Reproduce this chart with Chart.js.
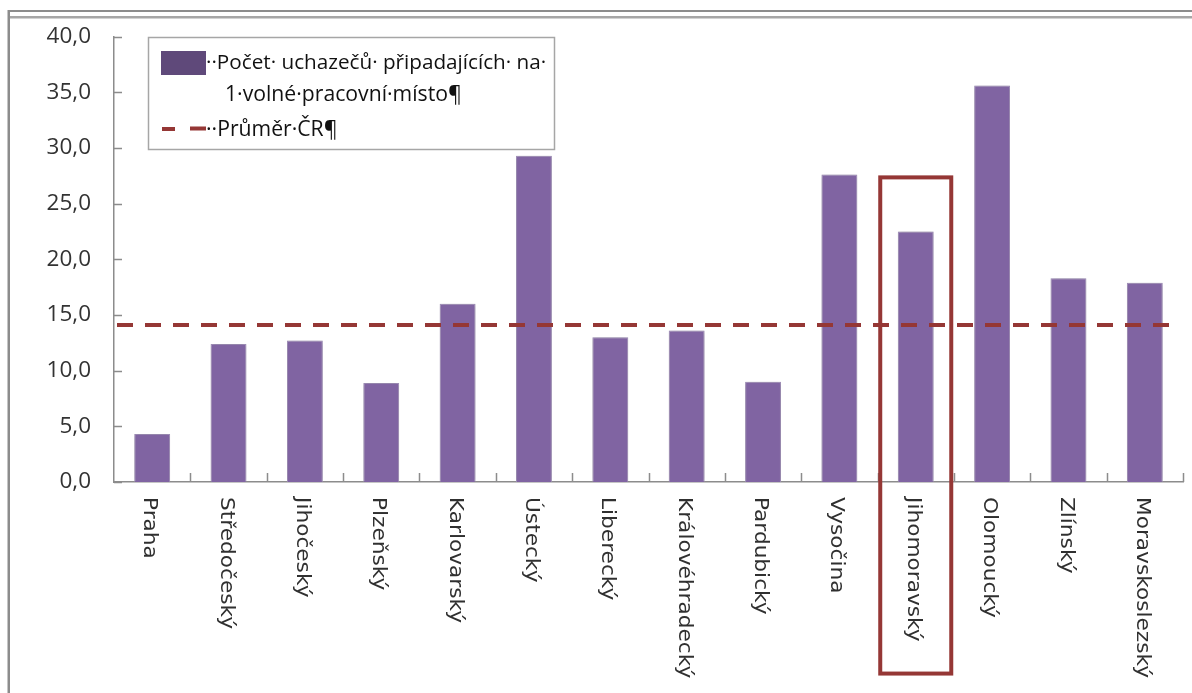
<!DOCTYPE html>
<html>
<head>
<meta charset="utf-8">
<script src="https://cdn.jsdelivr.net/npm/chart.js@4.4.1/dist/chart.umd.min.js"></script>
<style>
  html, body { margin: 0; padding: 0; background: #ffffff; }
  #wrap { width: 1192px; height: 693px; position: relative; }
</style>
</head>
<body>
<div id="wrap"><canvas id="c" width="1192" height="693"></canvas></div>
<script>
// ---- data ----
const categories = ['Praha', 'Středočeský', 'Jihočeský', 'Plzeňský', 'Karlovarský', 'Ústecký', 'Liberecký',
  'Královéhradecký', 'Pardubický', 'Vysočina', 'Jihomoravský', 'Olomoucký', 'Zlínský', 'Moravskoslezský'];
const applicantsPerVacancy = [4.3, 12.4, 12.7, 8.9, 16.0, 29.3, 13.0, 13.6, 9.0, 27.6, 22.5, 35.6, 18.3, 17.9];
const averageCR = 14.1;
const yTicks = [0, 5, 10, 15, 20, 25, 30, 35, 40];
const seriesNames = ['··Počet· uchazečů· připadajících· na·', '1·volné·pracovní·místo¶', '··Průměr·ČR¶'];
const highlightCategory = 'Jihomoravský';
const highlightRange = [27.35, -17.2];

const BAR = '#8064A2';
const RED = '#953735';

const decor = {
  id: 'decor',
  beforeDraw(chart) {
    const ctx = chart.ctx;
    ctx.save();
    ctx.fillStyle = '#fff';
    ctx.fillRect(0, 0, chart.width, chart.height);
    // frame lines
    ctx.fillStyle = '#8c8c8c';
    ctx.fillRect(8, 10, 1184, 2);
    ctx.fillStyle = '#a6a6a6';
    ctx.fillRect(8, 16, 1184, 2.5);
    ctx.fillStyle = '#8c8c8c';
    ctx.fillRect(7.5, 10, 2.5, 683);
    ctx.restore();
  },
  beforeDatasetsDraw(chart) {
    const ctx = chart.ctx;
    ctx.save();
    ctx.shadowColor = 'rgba(0,0,0,0.22)';
    ctx.shadowBlur = 4;
    ctx.shadowOffsetX = 0;
    ctx.shadowOffsetY = 0;
  },
  afterDatasetsDraw(chart) {
    const ctx = chart.ctx;
    ctx.restore();
    const xs = chart.scales.x, ys = chart.scales.y;
    const area = chart.chartArea;
    const cw = xs.getPixelForValue(1) - xs.getPixelForValue(0);
    ctx.save();
    // tick marks (inside)
    ctx.strokeStyle = '#8c8c8c';
    ctx.lineWidth = 1.5;
    ctx.beginPath();
    yTicks.forEach(v => {
      const y = Math.round(ys.getPixelForValue(v)) + 0.5;
      ctx.moveTo(area.left, y); ctx.lineTo(area.left + 8, y);
    });
    for (let i = 1; i <= categories.length; i++) {
      const x = xs.getPixelForValue(i - 1) + cw / 2;
      const xx = Math.round(x) + 0.5;
      ctx.moveTo(xx, area.bottom); ctx.lineTo(xx, area.bottom - 9);
    }
    ctx.stroke();

    // average line
    const ay = ys.getPixelForValue(averageCR);
    ctx.strokeStyle = RED;
    ctx.lineWidth = 4;
    ctx.setLineDash([16, 12]);
    ctx.beginPath();
    ctx.moveTo(area.left + 3, ay);
    ctx.lineTo(area.right - 14, ay);
    ctx.stroke();
    ctx.setLineDash([]);

    // x labels rotated clockwise
    ctx.fillStyle = '#303030';
    ctx.font = '19px "DejaVu Sans"';
    ctx.textAlign = 'left';
    ctx.textBaseline = 'middle';
    categories.forEach((lab, i) => {
      const x = xs.getPixelForValue(i);
      ctx.save();
      ctx.translate(x - 3, area.bottom + 15);
      ctx.rotate(Math.PI / 2);
      ctx.scale(1.14, 1);
      ctx.fillText(lab, 0, 0);
      ctx.restore();
    });

    // highlight box
    const hi = categories.indexOf(highlightCategory);
    const hx = xs.getPixelForValue(hi);
    const top = ys.getPixelForValue(highlightRange[0]);
    const bot = ys.getPixelForValue(highlightRange[1]);
    ctx.strokeStyle = RED;
    ctx.lineWidth = 4;
    ctx.strokeRect(hx - cw * 0.465, top, cw * 0.93, bot - top);

    // legend
    ctx.fillStyle = '#ffffff';
    ctx.fillRect(148, 37, 407, 113);
    ctx.strokeStyle = '#a6a6a6';
    ctx.lineWidth = 1.5;
    ctx.strokeRect(148.5, 37.5, 406, 112);
    ctx.fillStyle = '#5F497A';
    ctx.fillRect(161, 51, 45, 24);
    ctx.strokeStyle = RED;
    ctx.lineWidth = 4;
    ctx.beginPath();
    ctx.moveTo(162, 129); ctx.lineTo(175, 129);
    ctx.moveTo(190, 128.5); ctx.lineTo(206, 128.5);
    ctx.stroke();
    ctx.fillStyle = '#111111';
    ctx.textBaseline = 'alphabetic';
    ctx.textAlign = 'left';
    ctx.font = '20.7px "Open Sans"';
    ctx.fillText(seriesNames[0], 206, 69);
    ctx.font = '21.2px "Open Sans"';
    ctx.fillText(seriesNames[1], 225, 101);
    ctx.fillText(seriesNames[2], 206, 136);
    ctx.restore();
  }
};

new Chart(document.getElementById('c'), {
  type: 'bar',
  data: {
    labels: categories,
    datasets: [{
      label: 'Počet uchazečů připadajících na 1 volné pracovní místo',
      data: applicantsPerVacancy,
      backgroundColor: BAR,
      borderColor: '#a493bd',
      borderWidth: 1,
      barPercentage: 0.47,
      categoryPercentage: 1.0
    }]
  },
  options: {
    responsive: false,
    animation: false,
    devicePixelRatio: 1,
    layout: { padding: { left: 0, top: 33, right: 9, bottom: 0 } },
    plugins: { legend: { display: false }, tooltip: { enabled: false } },
    scales: {
      x: {
        type: 'category',
        offset: true,
        grid: { display: false, drawTicks: false },
        border: { display: true, color: '#8c8c8c', width: 1.5 },
        ticks: { display: false },
        afterFit(s) { s.height = 693 - 482; }
      },
      y: {
        min: 0, max: 40,
        grid: { display: false, drawTicks: false },
        border: { display: true, color: '#8c8c8c', width: 1.5 },
        afterBuildTicks(s) { s.ticks = yTicks.map(v => ({ value: v })); },
        afterFit(s) { s.width = 114; },
        ticks: {
          padding: 23,
          color: '#333333',
          font: { family: '"Open Sans"', size: 22.5 },
          callback: v => v.toFixed(1).replace('.', ',')
        }
      }
    }
  },
  plugins: [decor]
});
</script>
</body>
</html>
